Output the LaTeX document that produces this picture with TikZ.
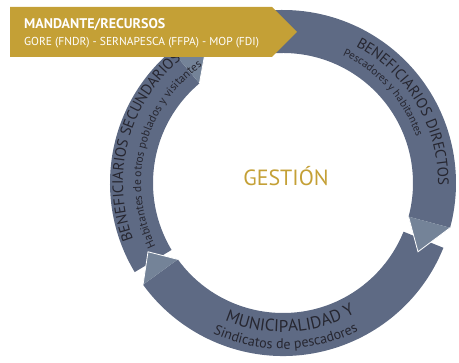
\documentclass[tikz,border=0pt]{standalone}
\usepackage{fontspec}
\setmainfont{PT Sans}
\usetikzlibrary{decorations.text}
\definecolor{ringblue}{RGB}{94,106,132}
\definecolor{headblue}{RGB}{116,131,152}
\definecolor{gold}{RGB}{196,160,54}
\definecolor{darktext}{RGB}{38,38,48}

\begin{document}
\begin{tikzpicture}[x=1pt,y=1pt]
        % Define styles
        \tikzset{
            band/.style={fill=ringblue},
            head/.style={fill=headblue},
            edge/.style={draw=white, line width=0.8pt},
            bandtext/.style={decorate, decoration={text along path, text align=center, text color=darktext}}
        }
        \useasboundingbox (0,0) rectangle (459,363);
        \coordinate (centre) at (283,180);
        \begin{scope}[shift={(centre)}]
        % Right segment (beneficiarios directos)
        \fill[band] (100:173) arc[start angle=100, end angle=-15, radius=173pt] -- (-15:130) arc[start angle=-15, end angle=100, radius=130pt] -- cycle;
        % Bottom segment (municipalidad)
        \fill[band] (-22:173) arc[start angle=-22, end angle=-144, radius=173pt] -- (-144:130) arc[start angle=-144, end angle=-22, radius=130pt] -- cycle;
        % Left segment (beneficiarios secundarios)
        \fill[band] (211:173) arc[start angle=211, end angle=130, radius=173pt] -- (130:130) arc[start angle=130, end angle=211, radius=130pt] -- cycle;
        % Arrow heads, clockwise
        \fill[head] (-15:173) -- (-27:151.5) -- (-15:130) -- cycle;
        \draw[edge] (-15:173) -- (-27:151.5) -- (-15:130);
        \fill[head] (-144:173) -- (-153:151.5) -- (-144:130) -- cycle;
        \draw[edge] (-144:173) -- (-153:151.5) -- (-144:130);
        \fill[head] (130:173) -- (121:151.5) -- (130:130) -- cycle;
        \draw[edge] (130:173) -- (121:151.5) -- (130:130);
        % Texts along the ring
        \path[bandtext, decoration={text={|\fontsize{15}{17}\selectfont|BENEFICIARIOS DIRECTOS}}] (75:155) arc[start angle=75, end angle=-14, radius=155pt];
        \path[bandtext, decoration={text={|\fontsize{11}{13}\selectfont|Pescadores y habitantes}}] (82:141) arc[start angle=82, end angle=2, radius=141pt];
        \path[bandtext, decoration={text={|\fontsize{15}{17}\selectfont|BENEFICIARIOS SECUNDARIOS}}] (228:160) arc[start angle=228, end angle=102, radius=160pt];
        \path[bandtext, decoration={text={|\fontsize{11.5}{13}\selectfont|Habitantes de otros poblados y visitantes}}] (228:142) arc[start angle=228, end angle=103, radius=142pt];
        \path[bandtext, decoration={text={|\fontsize{17}{19}\selectfont|MUNICIPALIDAD Y}}] (228:149) arc[start angle=228, end angle=318, radius=149pt];
        \path[bandtext, decoration={text={|\fontsize{14}{16}\selectfont|Sindicatos de pescadores}}] (226:166) arc[start angle=226, end angle=316, radius=166pt];
        \end{scope}
        % Banner on top
        \fill[gold] (10,356) -- (272,356) -- (297,331) -- (272,306) -- (10,306) -- cycle;
        \node[anchor=base west, inner sep=0, text=white, font=\bfseries\fontsize{14}{16}\selectfont] (mandante) at (24,334) {MANDANTE/RECURSOS};
        \node[anchor=base west, inner sep=0, text=white, font=\fontsize{11.5}{13}\selectfont] (fuentes) at (24,317) {GORE (FNDR) - SERNAPESCA (FFPA) - MOP (FDI)};
        % Centre label
        \node[text=gold, font=\fontsize{22}{25}\selectfont] (gestion) at (286,187) {GESTIÓN};
    \end{tikzpicture}
\end{document}
